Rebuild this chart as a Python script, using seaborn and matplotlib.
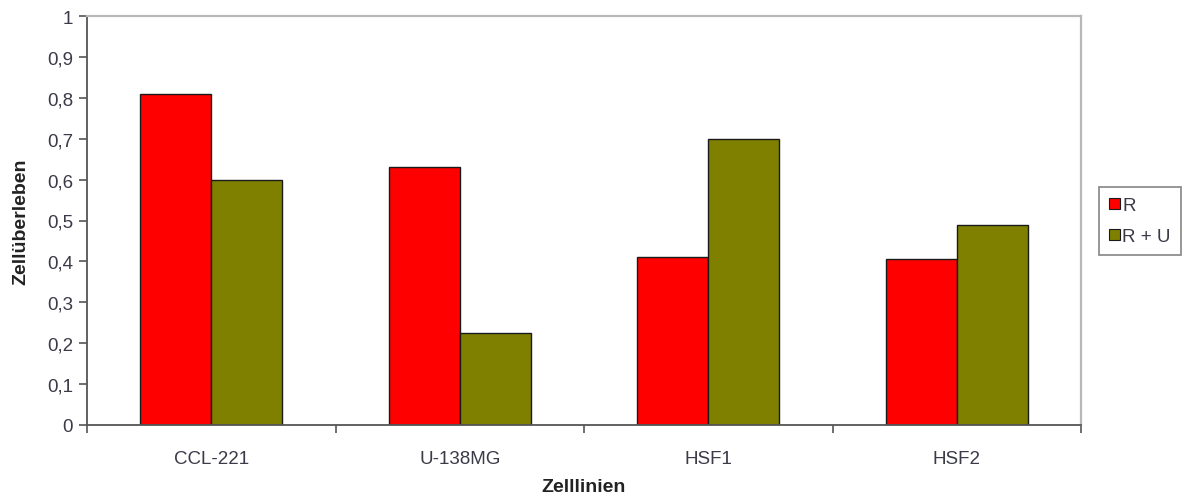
import matplotlib
matplotlib.use("Agg")
import matplotlib.pyplot as plt
import matplotlib.ticker as mticker
from matplotlib.patches import Patch
import seaborn as sns
import pandas as pd

# Cell survival per cell line, radiation alone vs. radiation plus treatment
zelllinien = ["CCL-221", "U-138MG", "HSF1", "HSF2"]
werte_r = [0.81, 0.63, 0.41, 0.405]
werte_ru = [0.60, 0.225, 0.70, 0.49]
serien = ["R", "R + U"]
farben = ["#FF0000", "#808000"]
y_ticks = [0, 0.1, 0.2, 0.3, 0.4, 0.5, 0.6, 0.7, 0.8, 0.9, 1.0]

df = pd.DataFrame({
    "Zelllinien": zelllinien * 2,
    "Zellüberleben": werte_r + werte_ru,
    "Serie": [serien[0]] * len(zelllinien) + [serien[1]] * len(zelllinien),
})

sns.set_style("white")
plt.rcParams["font.family"] = ["Liberation Sans", "DejaVu Sans"]
text_color = "#3a3a48"

fig = plt.figure(figsize=(11.84, 5.02), dpi=100)
ax = fig.add_axes([87 / 1184, 1 - 426 / 502, (1081 - 87) / 1184, (426 - 17) / 502])

sns.barplot(
    data=df, x="Zelllinien", y="Zellüberleben", hue="Serie",
    hue_order=serien, palette=farben, order=zelllinien,
    width=0.571, gap=0, edgecolor="#1a1a1a", linewidth=1.0,
    saturation=1, legend=False, ax=ax,
)

ax.set_xlim(-0.5, len(zelllinien) - 0.5)
ax.set_ylim(0, 1)
ax.set_yticks(y_ticks)
ax.yaxis.set_major_formatter(
    mticker.FuncFormatter(lambda v, _: ("%g" % round(v, 2)).replace(".", ","))
)

# category boundary ticks on the x axis, labels centered without tick marks
ax.set_xticks([i - 0.5 for i in range(len(zelllinien) + 1)], minor=True)
ax.tick_params(axis="x", which="major", length=0, pad=18,
               labelsize=13.5, labelcolor=text_color)
ax.tick_params(axis="x", which="minor", length=6, width=1.2,
               color="#555555", direction="out", bottom=True)
ax.tick_params(axis="y", which="major", length=6, width=1.2,
               color="#555555", direction="out", left=True,
               labelsize=13.5, labelcolor=text_color, pad=4)

for side in ("left", "bottom"):
    ax.spines[side].set_color("#555555")
    ax.spines[side].set_linewidth(1.3)
for side in ("top", "right"):
    ax.spines[side].set_color("#b8b8b8")
    ax.spines[side].set_linewidth(1.6)

ax.set_xlabel("Zelllinien", fontsize=14, fontweight="bold",
              color="#222222", labelpad=8)
ax.set_ylabel("Zellüberleben", fontsize=14, fontweight="bold",
              color="#222222", labelpad=13)

handles = [Patch(facecolor=c, edgecolor="#1a1a1a", linewidth=0.8) for c in farben]
leg = fig.legend(
    handles, serien, loc="center left",
    bbox_to_anchor=(1099 / 1184, 1 - 222 / 502),
    frameon=True, fancybox=False, edgecolor="#666666",
    fontsize=13.5, handlelength=0.55, handleheight=0.55,
    handletextpad=0.15, labelspacing=0.75, borderpad=0.55,
    borderaxespad=0,
)
leg.get_frame().set_linewidth(1.2)
for t in leg.get_texts():
    t.set_color(text_color)

fig.savefig("out.png", dpi=100, facecolor="white")
